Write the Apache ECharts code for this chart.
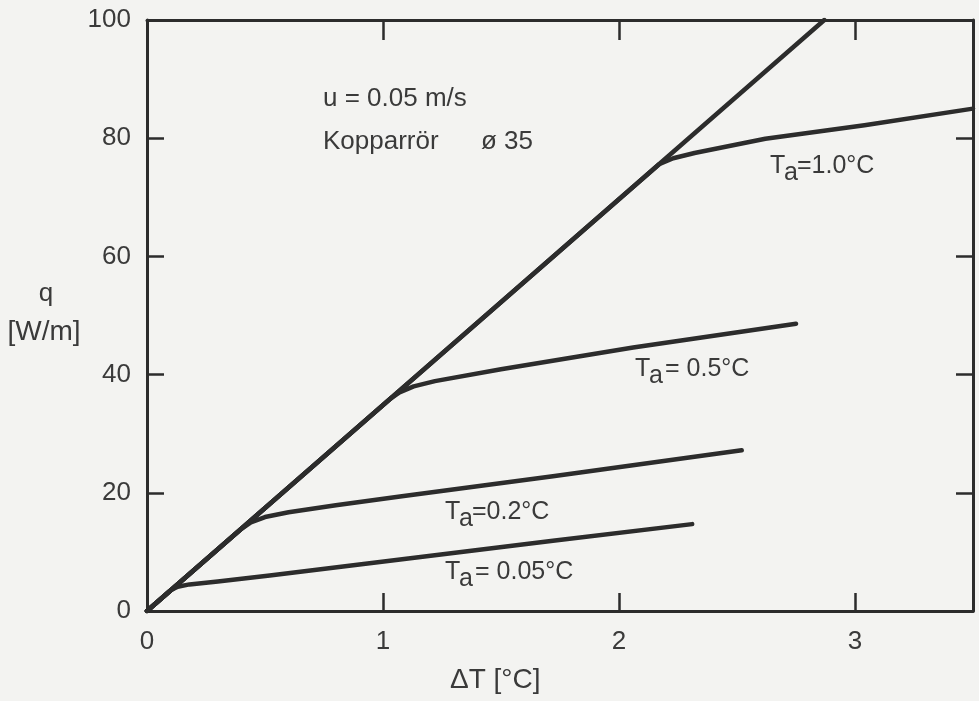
<!DOCTYPE html>
<html><head><meta charset="utf-8">
<script src="https://cdn.jsdelivr.net/npm/echarts@6/dist/echarts.min.js"></script>
<style>html,body{margin:0;padding:0;background:#f3f3f1}#c{width:979px;height:701px}</style>
</head><body><div id="c"></div>
<script>
// ---- data (x = ΔT [°C], y = q [W/m]) ----
const limitLine = [[0,0],[2.87,100]];
const ta005 = [[0,0],[0.10,3.5],[0.13,4.1],[0.18,4.5],[0.30,5.0],[0.52,6.0],[1.09,8.8],[1.72,11.9],[2.31,14.7]];
const ta02  = [[0,0],[0.40,13.9],[0.44,15.0],[0.50,15.9],[0.60,16.7],[0.80,17.9],[1.08,19.4],[1.72,22.8],[2.52,27.2]];
const ta05  = [[0,0],[1.03,35.9],[1.07,37.0],[1.13,38.0],[1.22,38.9],[1.50,40.9],[2.06,44.6],[2.75,48.6]];
const ta10  = [[0,0],[2.13,74.2],[2.17,75.6],[2.23,76.6],[2.32,77.5],[2.62,79.9],[3.04,82.2],[3.50,85.0]];
const xRange = [0, 3.5], xStep = 1;
const yRange = [0, 100], yStep = 20;
const curveNames = ['Ta = 0.05°C','Ta = 0.2°C','Ta = 0.5°C','Ta = 1.0°C'];

const INK = '#2c2c2c', TXT = '#3a3a3a', FONT = 'Liberation Sans';
const chart = echarts.init(document.getElementById('c'), null, {renderer:'canvas'});

function axisX(pos, showLabel, tickLen){
  return {type:'value', position:pos, min:xRange[0], max:xRange[1], interval:xStep,
    axisLine:{onZero:false, lineStyle:{color:INK, width:3}},
    axisTick:{inside:true, length:tickLen, lineStyle:{color:INK, width:2.5}},
    axisLabel:{show:showLabel, showMaxLabel:false, margin:18, fontSize:26, color:TXT, fontFamily:FONT},
    splitLine:{show:false}};
}
function axisY(pos, showLabel, tickLen){
  return {type:'value', position:pos, min:yRange[0], max:yRange[1], interval:yStep,
    axisLine:{onZero:false, lineStyle:{color:INK, width:3}},
    axisTick:{inside:true, length:tickLen, lineStyle:{color:INK, width:2.5}},
    axisLabel:{show:showLabel, margin:16, fontSize:26, color:TXT, fontFamily:FONT},
    splitLine:{show:false}};
}
function curve(name, data){
  return {type:'line', name:name, data:data, showSymbol:false, smooth:false,
    lineStyle:{color:INK, width:4.5, join:'round', cap:'round'}, xAxisIndex:0, yAxisIndex:0, z:3};
}
function txt(x, y, text, size, align){
  return {type:'text', x:x, y:y, style:{text:text, font:size+'px "'+FONT+'"', fill:TXT,
    align:align||'left', textAlign:align||'left', verticalAlign:'middle', textVerticalAlign:'middle'}};
}
function taLabel(x, y, rest){
  return [txt(x, y, 'T', 25), txt(x+14, y+7, 'a', 25), txt(x+(rest[0]==='='&&rest[1]!==' '?27:30), y, rest, 25)];
}

chart.setOption({
  animation:false,
  backgroundColor:'#f3f3f1',
  grid:{left:147, top:20, width:826, height:591, outerBoundsMode:'none', containLabel:false},
  xAxis:[axisX('bottom', true, 18), axisX('top', false, 20)],
  yAxis:[axisY('left', true, 17), axisY('right', false, 17)],
  series:[
    curve('limit', limitLine),
    curve(curveNames[0], ta005),
    curve(curveNames[1], ta02),
    curve(curveNames[2], ta05),
    curve(curveNames[3], ta10)
  ],
  graphic:[
    txt(323, 99, 'u = 0.05 m/s', 26),
    txt(323, 142, 'Kopparrör', 26),
    txt(481, 142, 'ø 35', 26),
    txt(46, 294, 'q', 26, 'center'),
    txt(44, 332, '[W/m]', 28, 'center'),
    txt(450, 680, 'ΔT [°C]', 28),
    ...taLabel(770, 166, '=1.0°C'),
    ...taLabel(635, 369, '= 0.5°C'),
    ...taLabel(445, 512, '=0.2°C'),
    ...taLabel(445, 572, '= 0.05°C')
  ]
});
</script></body></html>
